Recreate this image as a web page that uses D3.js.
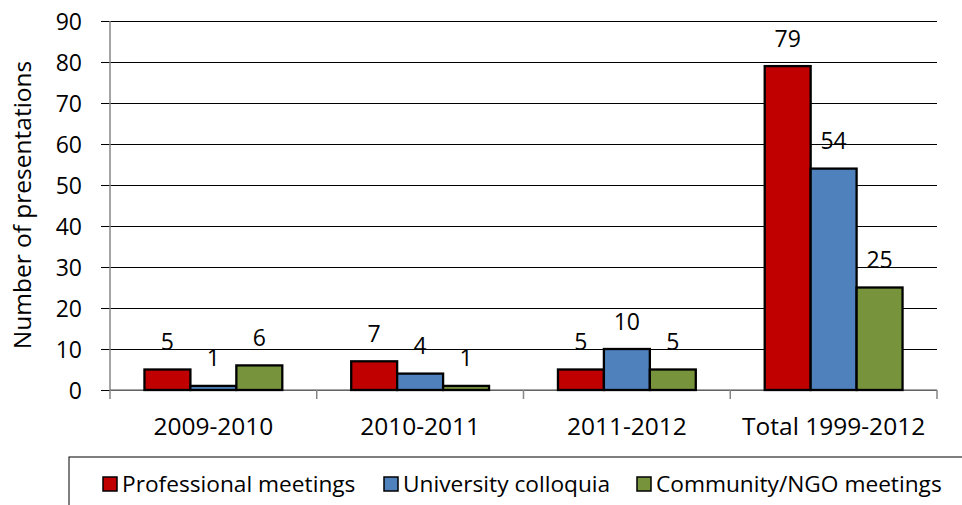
<!DOCTYPE html>
<html>
<head>
<meta charset="utf-8">
<script src="https://cdn.jsdelivr.net/npm/d3@7"></script>
<style>
  body { margin: 0; background: #fff; }
  svg text { font-family: "Open Sans", "Noto Sans", sans-serif; fill: #000; }
</style>
</head>
<body>
<svg id="chart" width="962" height="505"></svg>
<script>
// Presentations per period, by venue type
const categories = ["2009-2010", "2010-2011", "2011-2012", "Total 1999-2012"];
const seriesNames = ["Professional meetings", "University colloquia", "Community/NGO meetings"];
const professional = [5, 7, 5, 79];
const university = [1, 4, 10, 54];
const community = [6, 1, 5, 25];
const yTicks = [0, 10, 20, 30, 40, 50, 60, 70, 80, 90];

const seriesValues = [professional, university, community];
const colors = ["#C00000", "#4F81BD", "#77933C"];

const svg = d3.select("#chart");
const margin = { left: 110, right: 25, top: 21, bottom: 115 };
const width = 962 - margin.left - margin.right;
const height = 505 - margin.top - margin.bottom;

const g = svg.append("g").attr("transform", `translate(${margin.left},${margin.top})`);

const x0 = d3.scaleBand().domain(categories).range([0, width]).paddingInner(0).paddingOuter(0);
const x1 = d3.scaleBand().domain(seriesNames).range([0, x0.bandwidth()]).paddingInner(0).paddingOuter(0.75);
const y = d3.scaleLinear().domain([0, 90]).range([height, 0]);

// Horizontal gridlines with outside tick marks
const yAxis = g.append("g")
  .call(d3.axisLeft(y).tickValues(yTicks).tickSize(-width).tickFormat(d3.format("d")));
yAxis.select(".domain").remove();
yAxis.selectAll(".tick line")
  .attr("x1", -9).attr("x2", width)
  .attr("stroke", "#000").attr("stroke-width", 1);
yAxis.selectAll(".tick text")
  .attr("x", -28).attr("dy", "0.36em")
  .style("font-size", "23px");

// Vertical axis line
g.append("line").attr("x1", 0).attr("x2", 0).attr("y1", 0).attr("y2", height + 9)
  .attr("stroke", "#868686").attr("stroke-width", 1.5);

// Category axis with ticks between groups
const xAxis = g.append("g").attr("transform", `translate(0,${height})`);
xAxis.append("line").attr("x1", 0).attr("x2", width).attr("y1", 0).attr("y2", 0)
  .attr("stroke", "#868686").attr("stroke-width", 1.5);
const boundaries = categories.map(c => x0(c)).concat([width]);
xAxis.selectAll("line.sep").data(boundaries.slice(1)).enter().append("line")
  .attr("class", "sep")
  .attr("x1", d => d).attr("x2", d => d).attr("y1", 0).attr("y2", 9)
  .attr("stroke", "#868686").attr("stroke-width", 1.5);
xAxis.selectAll("text.cat").data(categories).enter().append("text")
  .attr("class", "cat")
  .attr("x", d => x0(d) + x0.bandwidth() / 2)
  .attr("y", 45)
  .attr("text-anchor", "middle")
  .style("font-size", "24.5px")
  .text(d => d);

// Bars
const groups = g.selectAll("g.grp").data(categories).enter().append("g")
  .attr("class", "grp")
  .attr("transform", d => `translate(${x0(d)},0)`);

seriesNames.forEach((name, si) => {
  groups.append("rect")
    .attr("x", x1(name))
    .attr("y", (d, i) => y(seriesValues[si][i]))
    .attr("width", x1.bandwidth())
    .attr("height", (d, i) => height - y(seriesValues[si][i]))
    .attr("fill", colors[si])
    .attr("stroke", "#000")
    .attr("stroke-width", 2.3);
  groups.append("text")
    .attr("x", x1(name) + x1.bandwidth() / 2)
    .attr("y", (d, i) => y(seriesValues[si][i]) - 19.5)
    .attr("text-anchor", "middle")
    .style("font-size", "23px")
    .text((d, i) => seriesValues[si][i]);
});

// Y axis title
svg.append("text")
  .attr("transform", "translate(31,205) rotate(-90)")
  .attr("text-anchor", "middle")
  .style("font-size", "24.5px")
  .text("Number of presentations");

// Legend
const legend = svg.append("g");
legend.append("rect")
  .attr("x", 69).attr("y", 457).attr("width", 900).attr("height", 60)
  .attr("fill", "#fff").attr("stroke", "#000").attr("stroke-width", 1);
const legendX = [103, 384, 637];
seriesNames.forEach((name, si) => {
  const item = legend.append("g").attr("transform", `translate(${legendX[si]},0)`);
  item.append("rect").attr("x", 0).attr("y", 477).attr("width", 14).attr("height", 14)
    .attr("fill", colors[si]).attr("stroke", "#000").attr("stroke-width", 1.5);
  item.append("text").attr("x", 19).attr("y", 492)
    .style("font-size", "22.7px")
    .text(name);
});
</script>
</body>
</html>
